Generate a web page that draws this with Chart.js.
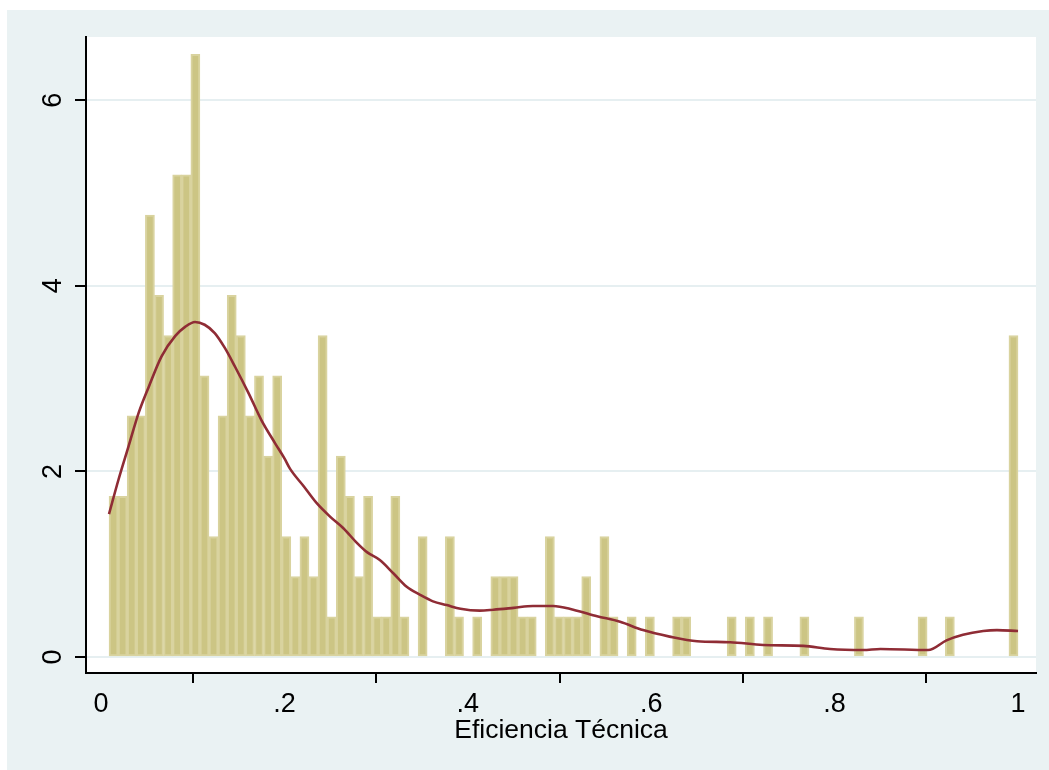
<!DOCTYPE html>
<html>
<head>
<meta charset="utf-8">
<script src="https://cdn.jsdelivr.net/npm/chart.js@4"></script>
<style>
    body { margin: 0; background: #ffffff; }
    canvas { display: block; }
</style>
</head>
<body>
<canvas id="histChart" width="1049" height="770"></canvas>
<script>
// histogram: 100 bins from min to max of Eficiencia Técnica
const binStart = 0.0087;
const binWidth = 0.009913;
const binCounts = [
    4, 4, 6, 6, 11, 9, 8, 12, 12, 15,
    7, 3, 6, 9, 8, 6, 7, 5, 7, 3,
    2, 3, 2, 8, 1, 5, 4, 2, 4, 1,
    1, 4, 1, 0, 3, 0, 0, 3, 1, 0,
    1, 0, 2, 2, 2, 1, 1, 0, 3, 1,
    1, 1, 2, 0, 3, 1, 0, 1, 0, 1,
    0, 0, 1, 1, 0, 0, 0, 0, 1, 0,
    1, 0, 1, 0, 0, 0, 1, 0, 0, 0,
    0, 0, 1, 0, 0, 0, 0, 0, 0, 1,
    0, 0, 1, 0, 0, 0, 0, 0, 0, 8
];

// kernel density curve
const kdeX = [0.0087, 0.019, 0.030, 0.041, 0.052, 0.066, 0.081, 0.092, 0.1025, 0.113,
    0.124, 0.135, 0.146, 0.161, 0.175, 0.19, 0.2, 0.206, 0.221, 0.235,
    0.25, 0.264, 0.279, 0.29, 0.304, 0.319, 0.333, 0.348, 0.362, 0.377,
    0.392, 0.413, 0.428, 0.45, 0.471, 0.493, 0.515, 0.541, 0.566, 0.591,
    0.62, 0.65, 0.686, 0.722, 0.766, 0.795, 0.831, 0.85, 0.902, 0.922,
    0.94, 0.962, 0.977, 1.0];
const kdeY = [1.54, 1.91, 2.27, 2.63, 2.91, 3.24, 3.46, 3.56, 3.61, 3.58,
    3.49, 3.33, 3.13, 2.84, 2.55, 2.30, 2.14, 2.03, 1.84, 1.66,
    1.51, 1.39, 1.23, 1.13, 1.045, 0.90, 0.76, 0.67, 0.60, 0.56,
    0.52, 0.50, 0.51, 0.53, 0.55, 0.55, 0.51, 0.44, 0.38, 0.29,
    0.22, 0.17, 0.16, 0.13, 0.12, 0.086, 0.075, 0.086, 0.075, 0.18,
    0.24, 0.28, 0.29, 0.28];

const xTicks = [0, 0.2, 0.4, 0.6, 0.8, 1];
const xTickLabels = ['0', '.2', '.4', '.6', '.8', '1'];
const yTicks = [0, 2, 4, 6];
const yTickLabels = ['0', '2', '4', '6'];
const xTitle = 'Eficiencia Técnica';

const FONT = '"Liberation Sans", Arial, Helvetica, sans-serif';

const nObs = binCounts.reduce((a, b) => a + b, 0);
const barData = [];
binCounts.forEach((c, i) => {
    if (c > 0) {
        barData.push({ x: binStart + (i + 0.5) * binWidth, y: c / (nObs * binWidth) });
    }
});
const kdeData = kdeX.map((x, i) => ({ x: x, y: kdeY[i] }));

const backgroundPlugin = {
    id: 'stataBackground',
    beforeDraw(chart) {
        const ctx = chart.ctx;
        const area = chart.chartArea;
        ctx.save();
        ctx.fillStyle = '#ffffff';
        ctx.fillRect(0, 0, chart.width, chart.height);
        ctx.fillStyle = '#EAF2F3';
        ctx.fillRect(7, 10, chart.width - 7, chart.height - 10);
        ctx.fillStyle = '#ffffff';
        ctx.fillRect(area.left, area.top, area.right - area.left, area.bottom - area.top);
        ctx.restore();
    }
};

// y tick labels are rotated like in Stata
const yLabelPlugin = {
    id: 'rotatedYLabels',
    afterDraw(chart) {
        const ctx = chart.ctx;
        const yScale = chart.scales.y;
        ctx.save();
        ctx.fillStyle = '#000000';
        ctx.font = '27px ' + FONT;
        ctx.textAlign = 'center';
        ctx.textBaseline = 'middle';
        yTicks.forEach((v, i) => {
            const py = yScale.getPixelForValue(v);
            ctx.save();
            ctx.translate(54, py);
            ctx.rotate(-Math.PI / 2);
            ctx.fillText(yTickLabels[i], 0, 0);
            ctx.restore();
        });
        ctx.restore();
    }
};

const ctx = document.getElementById('histChart').getContext('2d');
new Chart(ctx, {
    data: {
        datasets: [
            {
                type: 'line',
                data: kdeData,
                borderColor: '#8F2C35',
                borderWidth: 2.6,
                pointRadius: 0,
                cubicInterpolationMode: 'monotone',
                fill: false,
                order: 0
            },
            {
                type: 'bar',
                data: barData,
                backgroundColor: '#CCC584',
                borderColor: '#D9D39F',
                borderWidth: 2,
                borderSkipped: false,
                barPercentage: 1,
                categoryPercentage: 1,
                order: 1
            }
        ]
    },
    options: {
        responsive: false,
        animation: false,
        devicePixelRatio: 1,
        layout: { padding: { left: 0, top: 37, right: 13, bottom: 0 } },
        plugins: {
            legend: { display: false },
            tooltip: { enabled: false }
        },
        scales: {
            x: {
                type: 'linear',
                min: -0.0164,
                max: 1.0196,
                offset: false,
                afterBuildTicks: (s) => { s.ticks = xTicks.map(v => ({ value: v })); },
                afterFit: (s) => { s.height = 97; },
                ticks: {
                    color: '#000000',
                    font: { family: FONT, size: 27 },
                    padding: 5,
                    maxRotation: 0,
                    autoSkip: false,
                    callback: (value, index) => xTickLabels[index]
                },
                grid: {
                    drawOnChartArea: false,
                    tickColor: '#000000',
                    tickLength: 10,
                    lineWidth: 2
                },
                border: { color: '#000000', width: 2 },
                title: {
                    display: true,
                    text: xTitle,
                    color: '#000000',
                    font: { family: FONT, size: 26.5 },
                    padding: { top: 0, bottom: 23 }
                }
            },
            y: {
                type: 'linear',
                min: -0.172,
                max: 6.68,
                afterBuildTicks: (s) => { s.ticks = yTicks.map(v => ({ value: v })); },
                afterFit: (s) => { s.width = 86; },
                ticks: { display: false },
                grid: {
                    color: '#E6EFF1',
                    lineWidth: 2,
                    tickColor: '#000000',
                    tickLength: 11
                },
                border: { color: '#000000', width: 2 }
            }
        }
    },
    plugins: [backgroundPlugin, yLabelPlugin]
});
</script>
</body>
</html>
